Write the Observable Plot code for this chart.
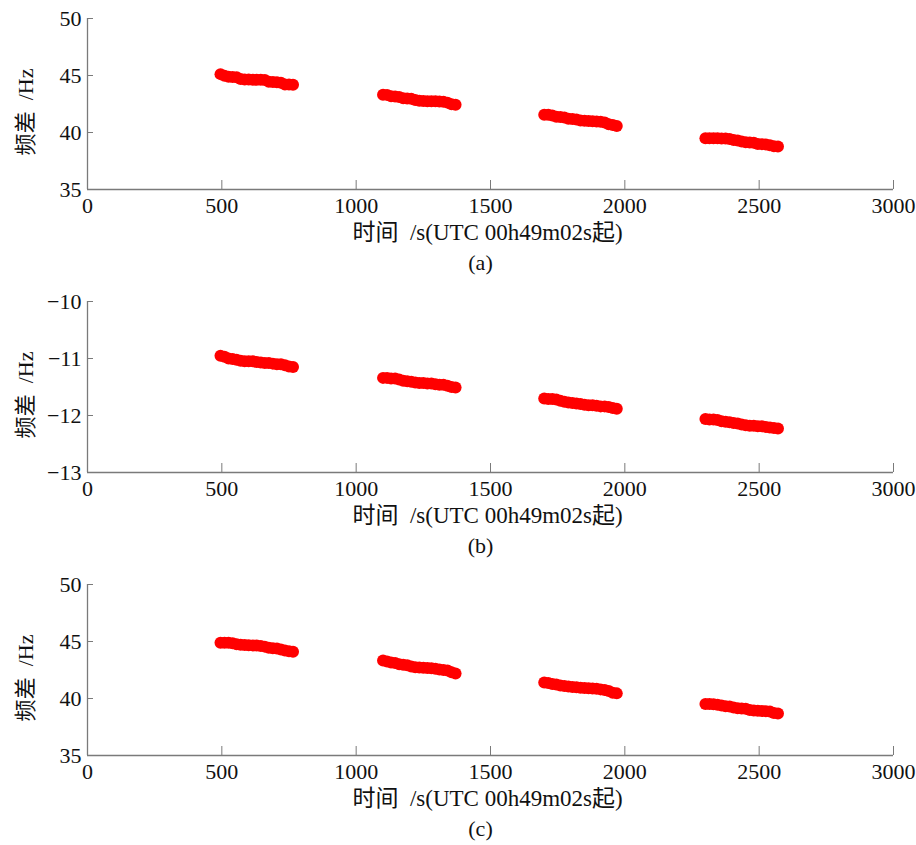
<!DOCTYPE html>
<html>
<head>
<meta charset="utf-8">
<script src="https://cdn.jsdelivr.net/npm/d3@7"></script>
<script src="https://cdn.jsdelivr.net/npm/@observablehq/plot@0.6"></script>
<style>
  body { margin: 0; background: #fff; }
  #chart svg { display: block; }
</style>
</head>
<body>
<div id="chart"></div>
<script>
// time stamps (s since UTC 00h49m02s) for the four observation passes
const seg1T = [495,510,525,540,555,570,585,600,615,630,645,660,675,690,705,720,735,750,765];
const seg2T = [1100,1115,1130,1145,1160,1175,1190,1205,1220,1235,1250,1265,1280,1295,1310,1325,1340,1355,1370];
const seg3T = [1700,1715,1730,1745,1760,1775,1790,1805,1820,1835,1850,1865,1880,1895,1910,1925,1940,1955,1970];
const seg4T = [2300,2315,2330,2345,2360,2375,2390,2405,2420,2435,2450,2465,2480,2495,2510,2525,2540,2555,2570];

// panel (a) frequency difference, Hz
const aSeg1 = [45.12,44.98,44.88,44.86,44.85,44.70,44.65,44.64,44.63,44.62,44.62,44.60,44.45,44.42,44.40,44.36,44.22,44.20,44.18];
const aSeg2 = [43.32,43.30,43.18,43.15,43.12,43.00,42.98,42.96,42.85,42.78,42.76,42.75,42.75,42.74,42.72,42.70,42.62,42.48,42.43];
const aSeg3 = [41.55,41.55,41.50,41.38,41.35,41.32,41.20,41.18,41.15,41.05,41.02,41.00,40.98,40.96,40.95,40.88,40.72,40.65,40.58];
const aSeg4 = [39.50,39.50,39.50,39.50,39.48,39.48,39.42,39.35,39.30,39.20,39.15,39.12,39.10,39.00,38.98,38.95,38.88,38.80,38.78];

// panel (b)
const bSeg1 = [-10.95,-10.97,-11.00,-11.01,-11.02,-11.04,-11.05,-11.05,-11.05,-11.06,-11.07,-11.08,-11.08,-11.09,-11.10,-11.10,-11.12,-11.14,-11.15];
const bSeg2 = [-11.34,-11.34,-11.35,-11.35,-11.37,-11.39,-11.40,-11.41,-11.42,-11.43,-11.43,-11.44,-11.44,-11.45,-11.46,-11.46,-11.48,-11.50,-11.51];
const bSeg3 = [-11.70,-11.71,-11.71,-11.72,-11.74,-11.76,-11.77,-11.78,-11.79,-11.80,-11.81,-11.82,-11.82,-11.83,-11.84,-11.84,-11.85,-11.87,-11.88];
const bSeg4 = [-12.06,-12.07,-12.07,-12.08,-12.10,-12.11,-12.12,-12.13,-12.14,-12.16,-12.17,-12.18,-12.18,-12.19,-12.19,-12.20,-12.21,-12.22,-12.23];

// panel (c)
const cSeg1 = [44.90,44.90,44.88,44.85,44.75,44.72,44.70,44.68,44.66,44.65,44.60,44.55,44.45,44.40,44.38,44.30,44.20,44.15,44.10];
const cSeg2 = [43.33,43.25,43.15,43.12,43.00,42.95,42.92,42.80,42.75,42.72,42.70,42.68,42.66,42.60,42.55,42.50,42.45,42.30,42.20];
const cSeg3 = [41.40,41.35,41.28,41.22,41.15,41.10,41.05,41.00,40.98,40.95,40.92,40.90,40.88,40.85,40.80,40.75,40.65,40.50,40.45];
const cSeg4 = [39.52,39.52,39.50,39.45,39.38,39.32,39.30,39.20,39.15,39.12,39.10,39.00,38.95,38.92,38.90,38.88,38.85,38.72,38.68];

const xTicks = [0, 500, 1000, 1500, 2000, 2500, 3000];
const yTicksAC = [35, 40, 45, 50];
const yTicksB = [-13, -12, -11, -10];
const yLabel = "频差\u00a0\u00a0/Hz";
const xLabel = "时间\u00a0\u00a0/s(UTC 00h49m02s起)";
const captions = ["(a)", "(b)", "(c)"];

const times = [seg1T, seg2T, seg3T, seg4T];
function rows(segs) {
  return segs.flatMap((vals, s) => vals.map((v, i) => ({t: times[s][i], v})));
}

const panels = [
  {data: rows([aSeg1, aSeg2, aSeg3, aSeg4]), domain: [35, 50], ticks: yTicksAC, cap: captions[0]},
  {data: rows([bSeg1, bSeg2, bSeg3, bSeg4]), domain: [-13, -10], ticks: yTicksB, cap: captions[1]},
  {data: rows([cSeg1, cSeg2, cSeg3, cSeg4]), domain: [35, 50], ticks: yTicksAC, cap: captions[2]}
];

const fontFamily = '"Liberation Serif", "Times New Roman", "Noto Sans CJK SC", serif';
const axisGray = "#7a7a7a";
const fmt = d3.format("d");

for (const p of panels) {
  const chart = Plot.plot({
    width: 916,
    height: 283,
    marginTop: 18,
    marginLeft: 87,
    marginRight: 23,
    marginBottom: 94,
    style: {fontFamily, fontSize: "22px", color: "#111", background: "#fff"},
    x: {domain: [0, 3000]},
    y: {domain: p.domain},
    marks: [
      Plot.dot(p.data, {x: "t", y: "v", r: 6, fill: "#ff0000"}),
      Plot.ruleX([0], {stroke: axisGray, strokeWidth: 1.3}),
      Plot.ruleY([p.domain[0]], {stroke: axisGray, strokeWidth: 1.3}),
      Plot.axisX({ticks: xTicks, tickFormat: fmt, tickSize: -9, tickPadding: 17, stroke: axisGray, label: null, fontSize: 22}),
      Plot.axisY({ticks: p.ticks, tickFormat: fmt, tickSize: -6, tickPadding: 12, stroke: axisGray, label: null, fontSize: 22}),
      Plot.text([yLabel], {frameAnchor: "left", textAnchor: "middle", lineAnchor: "middle", text: d => d, rotate: -90, dx: -62, dy: 8, fontSize: 22, fill: "#111"}),
      Plot.text([xLabel], {frameAnchor: "bottom", text: d => d, dx: -3, dy: 50, fontSize: 23, fill: "#111"}),
      Plot.text([p.cap], {frameAnchor: "bottom", text: d => d, dx: -10, dy: 80, fontSize: 22, fill: "#111"})
    ]
  });
  document.getElementById("chart").appendChild(chart);
}
</script>
</body>
</html>
